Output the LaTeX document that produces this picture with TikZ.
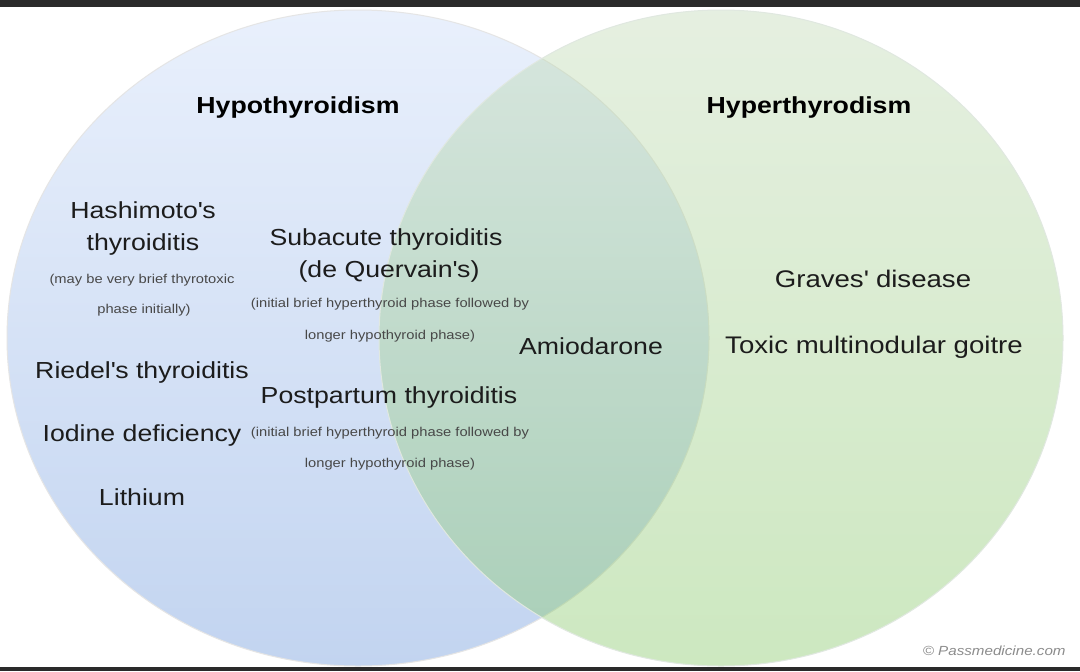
\documentclass[tikz,border=0pt]{standalone}
\usepackage{fontspec}
\setmainfont{Liberation Sans}[FakeStretch=1.15]
\usetikzlibrary{positioning}
\definecolor{hypotop}{RGB}{233,240,252}
\definecolor{hypobot}{RGB}{194,212,240}
\definecolor{hypertop}{RGB}{192,217,180}
\definecolor{hyperbot}{RGB}{130,198,98}
\definecolor{ink}{RGB}{28,28,28}
\definecolor{notegray}{RGB}{72,72,72}
\definecolor{bargray}{RGB}{42,42,42}
\newcommand{\q}{\textquotesingle}

\begin{document}
\begin{tikzpicture}[
  x=0.5pt, y=-0.5pt,
  item/.style={text=ink, inner sep=0pt, anchor=base, font=\fontsize{11.6}{14}\selectfont},
  bigitem/.style={item, font=\fontsize{12}{14}\selectfont},
  heading/.style={item, text=black, font=\fontsize{11.6}{14}\selectfont\bfseries},
  remark/.style={item, text=notegray, font=\fontsize{6.4}{8}\selectfont}
]
\useasboundingbox (0,0) rectangle (1080,671);
\fill[white] (0,0) rectangle (1080,671);

\shade[top color=hypotop, bottom color=hypobot, draw=black!10, line width=0.5pt]
  (358,338) ellipse [x radius=351, y radius=328];
\shade[top color=hypertop, bottom color=hyperbot, fill opacity=0.4, draw=green!25!black!12, line width=0.5pt]
  (721,338) ellipse [x radius=342, y radius=328];

\fill[bargray] (0,0) rectangle (1080,7);
\fill[bargray] (0,667) rectangle (1080,671);

\node[heading] (hypo) at (298,113) {Hypothyroidism};
\node[heading] (hyper) at (809,113) {Hyperthyrodism};

\node[item] (hashi1) at (143,218) {Hashimoto\q s};
\node[item] (hashi2) at (143,250) {thyroiditis};
\node[remark] (hashin1) at (142,283) {(may be very brief thyrotoxic};
\node[remark] (hashin2) at (144,313) {phase initially)};

\node[item] (riedel) at (142,378) {Riedel\q s thyroiditis};
\node[item] (iodine) at (142,441) {Iodine deficiency};
\node[item] (lithium) at (142,505) {Lithium};

\node[item] (subac1) at (386,245) {Subacute thyroiditis};
\node[item] (subac2) at (389,277) {(de Quervain\q s)};
\node[remark] (subacn1) at (390,307) {(initial brief hyperthyroid phase followed by};
\node[remark] (subacn2) at (390,339) {longer hypothyroid phase)};

\node[item] (postp) at (389,403) {Postpartum thyroiditis};
\node[remark] (postpn1) at (390,436) {(initial brief hyperthyroid phase followed by};
\node[remark] (postpn2) at (390,467) {longer hypothyroid phase)};

\node[item] (amio) at (591,354) {Amiodarone};

\node[bigitem] (graves) at (873,287) {Graves\q{} disease};
\node[bigitem] (tmng) at (874,353) {Toxic multinodular goitre};

\node[remark, anchor=base east, text=black!45, font=\fontsize{6.6}{8}\selectfont\itshape] (copy) at (1066,655) {\textcopyright{} Passmedicine.com};
\end{tikzpicture}
\end{document}
